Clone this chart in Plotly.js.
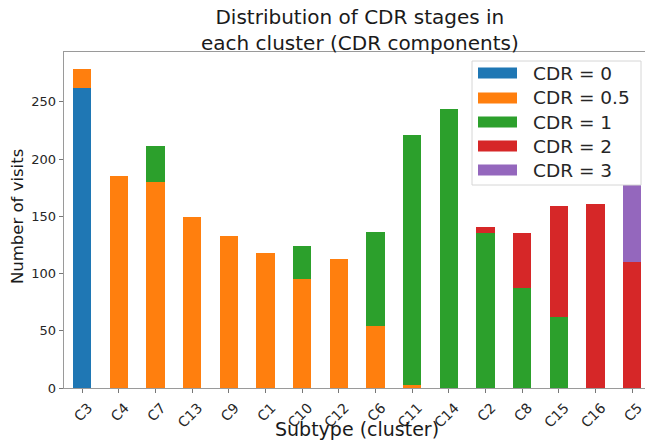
<!DOCTYPE html>
<html>
<head>
<meta charset="utf-8">
<script src="https://cdn.plot.ly/plotly-3.0.1.min.js"></script>
<style>html,body{margin:0;padding:0;background:#fff;}#chart{width:645px;height:441px;}</style>
</head>
<body>
<div id="chart"></div>
<script>
const categories = ['C3','C4','C7','C13','C9','C1','C10','C12','C6','C11','C14','C2','C8','C15','C16','C5'];
const cdr0  = [262, 0,   0,   0,   0,   0,   0,  0,   0,  0,   0,   0,   0,  0,   0,   0];
const cdr05 = [17,  185, 180, 149, 133, 118, 95, 113, 54, 3,   0,   0,   0,  0,   0,   0];
const cdr1  = [0,   0,   31,  0,   0,   0,   29, 0,   82, 218, 244, 135, 87, 62,  0,   0];
const cdr2  = [0,   0,   0,   0,   0,   0,   0,  0,   0,  0,   0,   6,   48, 97,  161, 110];
const cdr3  = [0,   0,   0,   0,   0,   0,   0,  0,   0,  0,   0,   0,   0,  0,   0,   67];
const seriesNames = ['CDR = 0', 'CDR = 0.5', 'CDR = 1', 'CDR = 2', 'CDR = 3'];
const yTicks = [0, 50, 100, 150, 200, 250];
const titleText = 'Distribution of CDR stages in<br>each cluster (CDR components)';
const xTitle = 'Subtype (cluster)';
const yTitle = 'Number of visits';

const seriesValues = [cdr0, cdr05, cdr1, cdr2, cdr3];
const colors = ['#1f77b4', '#ff7f0e', '#2ca02c', '#d62728', '#9467bd'];

const W = 645, H = 441;
const L = 64, R = 645, T = 52, B = 388;
const px2x = p => (p - L) / (R - L);
const py2y = p => (B - p) / (B - T);

const traces = seriesValues.map((vals, i) => ({
  type: 'bar',
  x: categories,
  y: vals,
  name: seriesNames[i],
  width: 0.5,
  marker: {color: colors[i], line: {width: 0}},
  showlegend: false,
  hoverinfo: 'x+y+name'
}));

const font = 'DejaVu Sans, sans-serif';
const shapes = [];
const annotations = [];

// Title
annotations.push({xref: 'paper', yref: 'paper',
  x: px2x(360), y: py2y(30), xanchor: 'center', yanchor: 'middle', showarrow: false,
  text: titleText, font: {family: font, size: 20, color: '#1a1a1a'}});
// Axis titles
annotations.push({xref: 'paper', yref: 'paper', x: px2x(357), y: py2y(429),
  xanchor: 'center', yanchor: 'middle', showarrow: false, text: xTitle,
  font: {family: font, size: 19, color: '#1a1a1a'}});
annotations.push({xref: 'paper', yref: 'paper', x: px2x(17), y: py2y(217),
  xanchor: 'center', yanchor: 'middle', showarrow: false, text: yTitle, textangle: -90,
  font: {family: font, size: 16.5, color: '#1a1a1a'}});

// Legend box
shapes.push({type: 'rect', xref: 'paper', yref: 'paper',
  x0: px2x(472), x1: px2x(641), y0: py2y(185), y1: py2y(61),
  line: {color: 'rgb(214,214,214)', width: 1}, fillcolor: 'rgba(255,255,255,0.8)', layer: 'above'});
const rowY = [73, 98, 122, 146, 170];
seriesNames.forEach((n, i) => {
  shapes.push({type: 'rect', xref: 'paper', yref: 'paper',
    x0: px2x(478), x1: px2x(517), y0: py2y(rowY[i] + 5.5), y1: py2y(rowY[i] - 5.5),
    line: {width: 0}, fillcolor: colors[i], layer: 'above'});
  annotations.push({xref: 'paper', yref: 'paper', x: px2x(531), y: py2y(rowY[i]),
    xanchor: 'left', yanchor: 'middle', text: n, showarrow: false,
    font: {family: font, size: 18.5, color: '#262626'}});
});

const layout = {
  width: W, height: H,
  margin: {l: L, r: W - R, t: T, b: H - B, pad: 0},
  paper_bgcolor: '#fff', plot_bgcolor: '#fff',
  barmode: 'stack',
  bargap: 0.5,
  xaxis: {type: 'category', range: [-0.5, 15.35], showgrid: false, zeroline: false,
    showline: true, mirror: true, linecolor: '#9a9a9a', linewidth: 1.3,
    ticks: 'outside', ticklen: 4, tickcolor: '#777', tickangle: -45,
    tickfont: {family: font, size: 14, color: '#262626'},
    ticklabelshift: 6, ticklabelstandoff: 1,
    fixedrange: true},
  yaxis: {range: [0, 293.5], tickvals: yTicks, showgrid: false, zeroline: false,
    showline: true, linecolor: '#9a9a9a', linewidth: 1.3,
    ticks: 'outside', ticklen: 4, tickcolor: '#777',
    tickfont: {family: font, size: 13, color: '#262626'},
    fixedrange: true},
  shapes: shapes,
  annotations: annotations,
  showlegend: false
};

Plotly.newPlot('chart', traces, layout, {displayModeBar: false, staticPlot: true});
</script>
</body>
</html>
